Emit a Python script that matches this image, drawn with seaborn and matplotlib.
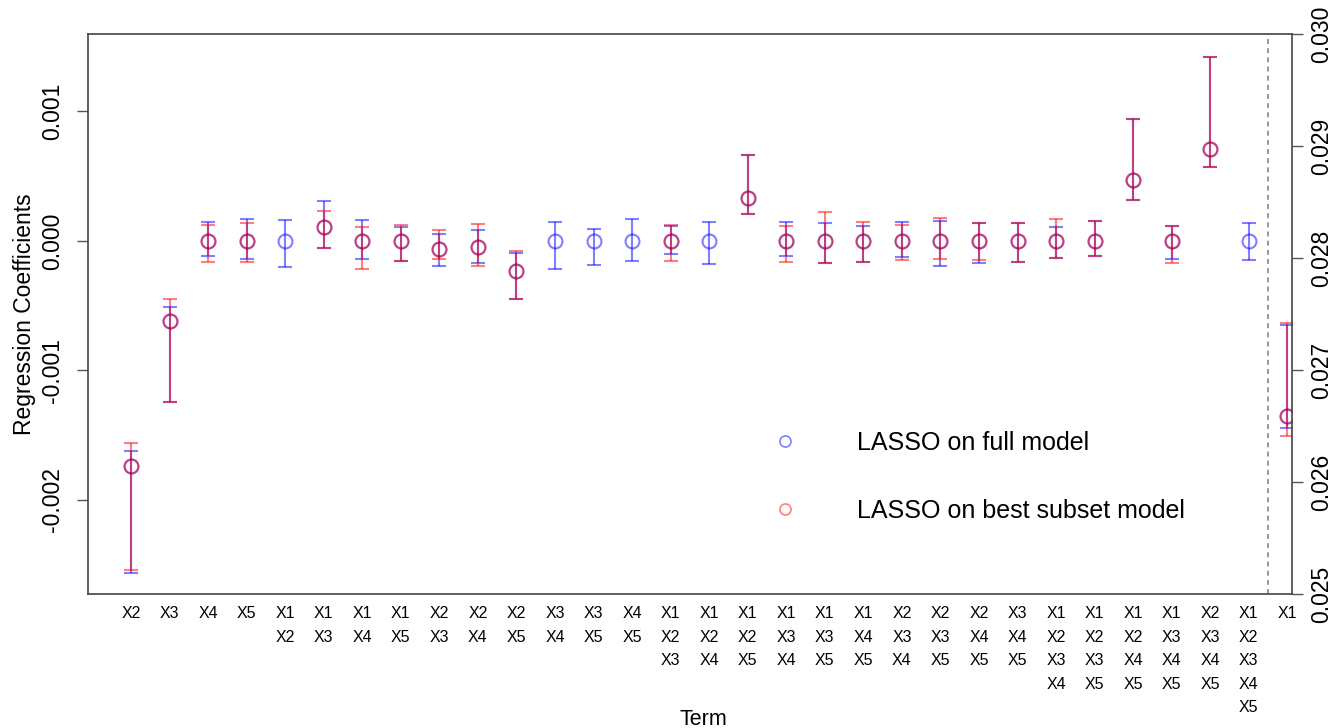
import numpy as np
import pandas as pd
import seaborn as sns
import matplotlib.pyplot as plt
from matplotlib.lines import Line2D

# terms on the x axis (last one, X1, is plotted on the right-hand axis)
terms = ["X2", "X3", "X4", "X5",
         "X1 X2", "X1 X3", "X1 X4", "X1 X5", "X2 X3", "X2 X4", "X2 X5",
         "X3 X4", "X3 X5", "X4 X5",
         "X1 X2 X3", "X1 X2 X4", "X1 X2 X5", "X1 X3 X4", "X1 X3 X5",
         "X1 X4 X5", "X2 X3 X4", "X2 X3 X5", "X2 X4 X5", "X3 X4 X5",
         "X1 X2 X3 X4", "X1 X2 X3 X5", "X1 X2 X4 X5", "X1 X3 X4 X5",
         "X2 X3 X4 X5", "X1 X2 X3 X4 X5"]
last_term = "X1"

# LASSO on full model (blue)
full_est = [-0.00174, -0.00062, 0.0, 0.0, 0.0, 0.000108, 0.0, 0.0, -0.000062, -0.000045,
            -0.00023, 0.0, 0.0, 0.0, 0.0, 0.0, 0.00033, 0.0, 0.0, 0.0,
            0.0, 0.0, 0.0, 0.0, 0.0, 0.0, 0.00047, 0.0, 0.00071, 0.0]
full_lo = [-0.00256, -0.00124, -0.000115, -0.00014, -0.0002, -0.000054, -0.00014, -0.000155, -0.00019, -0.00017,
           -0.000446, -0.000215, -0.000185, -0.000154, -0.0001, -0.000177, 0.000208, -0.000115, -0.00017, -0.00016,
           -0.000123, -0.00019, -0.00017, -0.00016, -0.00013, -0.000115, 0.00032, -0.00014, 0.00057, -0.000146]
full_hi = [-0.00162, -0.00051, 0.000146, 0.00017, 0.00016, 0.00031, 0.00016, 0.00011, 0.000054, 0.000085,
           -0.000092, 0.000146, 0.000092, 0.00017, 0.000115, 0.000146, 0.00066, 0.000146, 0.000138, 0.000115,
           0.000146, 0.000154, 0.000138, 0.000138, 0.000108, 0.000154, 0.00094, 0.000115, 0.00142, 0.000138]

# LASSO on best subset model (red), nan = term not in the subset
nan = np.nan
best_est = [-0.00174, -0.00062, 0.0, 0.0, nan, 0.000108, 0.0, 0.0, -0.000062, -0.000045,
            -0.00023, nan, nan, nan, 0.0, nan, 0.00033, 0.0, 0.0, 0.0,
            0.0, 0.0, 0.0, 0.0, 0.0, 0.0, 0.00047, 0.0, 0.00071, nan]
best_lo = [-0.00254, -0.00124, -0.00016, -0.00016, nan, -0.000054, -0.00022, -0.000155, -0.00014, -0.00019,
           -0.000446, nan, nan, nan, -0.000154, nan, 0.000208, -0.00016, -0.00017, -0.00016,
           -0.000146, -0.00014, -0.000146, -0.00016, -0.00013, -0.000115, 0.00032, -0.00017, 0.00057, nan]
best_hi = [-0.00156, -0.00045, 0.000123, 0.00014, nan, 0.00023, 0.00011, 0.00012, 0.000085, 0.00013,
           -0.000077, nan, nan, nan, 0.000123, nan, 0.00066, 0.000115, 0.00022, 0.000146,
           0.000123, 0.000177, 0.000138, 0.000138, 0.00017, 0.000154, 0.00094, 0.000115, 0.00142, nan]

# X1 on the right axis: estimate, low, high
x1_full = [0.02659, 0.02648, 0.0274]
x1_best = [0.02659, 0.02641, 0.02742]

sns.set_theme(style="ticks")
plt.rcParams['font.family'] = ['Liberation Sans', 'DejaVu Sans']
plt.rcParams['text.color'] = 'black'
plt.rcParams['axes.labelcolor'] = 'black'
plt.rcParams['xtick.color'] = 'black'
plt.rcParams['ytick.color'] = 'black'

blue = (0, 0, 1, 0.5)
red = (1, 0, 0, 0.5)

df = pd.DataFrame({"term": terms, "pos": np.arange(len(terms)),
                   "full_est": full_est, "full_lo": full_lo, "full_hi": full_hi,
                   "best_est": best_est, "best_lo": best_lo, "best_hi": best_hi})

fig = plt.figure(figsize=(13.38, 7.28), dpi=100)
ax = fig.add_axes([88 / 1338, 1 - 594 / 728, 1204 / 1338, 560 / 728])

eb = dict(fmt='o', mfc='none', ms=10, mew=1.5, elinewidth=1.5, capsize=4.7, capthick=1.5)
for key, col in [("full", blue), ("best", red)]:
    d = df.dropna(subset=[key + "_est"])
    ax.errorbar(d["pos"], d[key + "_est"],
                yerr=[d[key + "_est"] - d[key + "_lo"], d[key + "_hi"] - d[key + "_est"]],
                color=col, mec=col, ecolor=col, **eb)

ax.set_xlim(-1.115, 30.12)
ax.set_ylim(-0.002726, 0.001598)
ax.set_yticks([-0.002, -0.001, 0.0, 0.001])
ax.set_yticklabels(["-0.002", "-0.001", "0.000", "0.001"])
ax.axvline(len(terms) - 0.5, color='#888888', ls=(0, (3, 2.5)), lw=1.2)

ax.set_xticks(np.arange(len(terms) + 1))
ax.set_xticklabels([t.replace(" ", "\n") for t in terms] + [last_term],
                   fontsize=11.5, va='top', linespacing=1.7)
ax.tick_params(axis='x', length=0, pad=9)
ax.tick_params(axis='y', labelsize=16.5, length=8, width=1, color='#555555', pad=9, labelrotation=90)
for lab in ax.get_yticklabels():
    lab.set_va('center')

for s in ['left', 'top', 'bottom']:
    ax.spines[s].set_color('#444444')
    ax.spines[s].set_linewidth(1.2)
ax.spines['right'].set_visible(False)

ax2 = ax.twinx()
p = len(terms)
ax2.errorbar([p], [x1_full[0]], yerr=[[x1_full[0] - x1_full[1]], [x1_full[2] - x1_full[0]]],
             color=blue, mec=blue, ecolor=blue, **eb)
ax2.errorbar([p], [x1_best[0]], yerr=[[x1_best[0] - x1_best[1]], [x1_best[2] - x1_best[0]]],
             color=red, mec=red, ecolor=red, **eb)
ax2.set_ylim(0.025, 0.030)
ax2.set_yticks([0.025, 0.026, 0.027, 0.028, 0.029, 0.030])
ax2.set_yticklabels(["0.025", "0.026", "0.027", "0.028", "0.029", "0.030"])
ax2.tick_params(axis='y', labelsize=16.5, length=8, width=1, color='#555555', pad=5, labelrotation=90)
for lab in ax2.get_yticklabels():
    lab.set_va('center')
for s in ['left', 'top', 'bottom']:
    ax2.spines[s].set_visible(False)
ax2.spines['right'].set_color('#444444')
ax2.spines['right'].set_linewidth(1.2)

ax.set_ylabel("Regression Coefficients", fontsize=16.5)
ax.yaxis.set_label_coords(-0.043, 0.5)
ax.set_xlabel("Term", fontsize=15.5, va='top')
ax.xaxis.set_label_coords(0.511, -0.206)

handles = [Line2D([], [], ls='none', marker='o', mfc='none', mec=blue, ms=8, mew=1.2),
           Line2D([], [], ls='none', marker='o', mfc='none', mec=red, ms=8, mew=1.2)]
fig.legend(handles, ["LASSO on full model", "LASSO on best subset model"],
           loc='upper left', bbox_to_anchor=(772 / 1338, 1 - 431 / 728),
           frameon=False, fontsize=18, handlelength=1.0, handletextpad=2.4,
           labelspacing=1.75, borderpad=0, borderaxespad=0)

fig.savefig("out.png", dpi=100, facecolor='white')
